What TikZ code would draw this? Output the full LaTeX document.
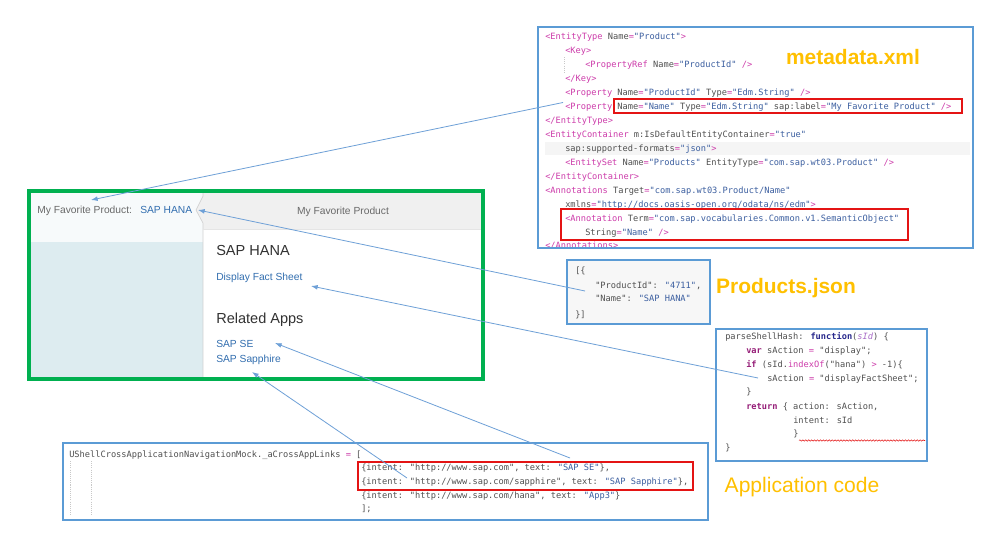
\documentclass[tikz,border=0pt]{standalone}
\usepackage{fontspec}
\setmainfont{Liberation Sans}
\newfontfamily\codefont{DejaVu Sans Mono}
\usetikzlibrary{arrows.meta,decorations.pathmorphing}
\definecolor{boxblue}{RGB}{91,155,213}
\definecolor{arrblue}{RGB}{110,160,215}
\definecolor{grn}{RGB}{0,176,80}
\definecolor{redb}{RGB}{228,20,20}
\definecolor{orng}{RGB}{255,192,0}
\definecolor{tagc}{RGB}{205,60,170}
\definecolor{attc}{RGB}{80,80,80}
\definecolor{valc}{RGB}{60,95,160}
\definecolor{kwc}{RGB}{150,30,120}
\definecolor{fnc}{RGB}{40,40,140}
\definecolor{paramc}{RGB}{170,110,200}
\definecolor{linkc}{RGB}{50,110,175}
\definecolor{txtg}{RGB}{105,105,105}
\definecolor{darkt}{RGB}{50,50,50}
\definecolor{hdrg}{RGB}{240,240,240}
\definecolor{panelb}{RGB}{221,236,240}
\definecolor{paneltop}{RGB}{247,250,251}
\definecolor{guideg}{RGB}{200,200,200}
\newcommand\ctag[1]{\textcolor{tagc}{#1}}
\newcommand\cva[1]{\textcolor{valc}{#1}}
\newcommand\codeq{\textcolor{tagc}{=}}
\newcommand\ckw[1]{\textcolor{kwc}{\bfseries #1}}
\begin{document}
\begin{tikzpicture}[x=0.75pt,y=-0.75pt,
  code/.style={anchor=base west, inner sep=0pt, font=\codefont\fontsize{6.5}{7}\selectfont, text=attc},
  bluebox/.style={draw=boxblue, line width=2.2pt},
  redbox/.style={draw=redb, line width=1.5pt},
  conn/.style={draw=arrblue, line width=0.6pt, -{Latex[length=5pt,width=3.6pt]}},
  title/.style={inner sep=0pt, text=orng, font=\fontsize{15.7}{18}\selectfont\bfseries},
  ui/.style={anchor=base west, inner sep=0pt, font=\fontsize{7.7}{9}\selectfont},
  uihead/.style={anchor=base west, inner sep=0pt, font=\fontsize{10.9}{13}\selectfont, text=darkt},
  guide/.style={draw=guideg, line width=0.4pt, dash pattern=on 0.8pt off 0.8pt}]
\useasboundingbox (0,0) rectangle (988,546);
\fill[white] (0,0) rectangle (988,546);

% ---------- metadata.xml box ----------
\fill[white] (538,27) rectangle (973,248);
\fill[black!4] (545,142) rectangle (970,155);
\draw[guide] (564,57) -- (564,72);
\node[code] (m1) at (545,39.7) {\ctag{<EntityType} Name\codeq\cva{"Product"}\ctag{>}};
\node[code] (m2) at (565,53.65) {\ctag{<Key>}};
\node[code] (m3) at (585,67.6) {\ctag{<PropertyRef} Name\codeq\cva{"ProductId"} \ctag{/>}};
\node[code] (m4) at (565,81.55) {\ctag{</Key>}};
\node[code] (m5) at (565,95.5) {\ctag{<Property} Name\codeq\cva{"ProductId"} Type\codeq\cva{"Edm.String"} \ctag{/>}};
\node[code] (m6) at (565,109.45) {\ctag{<Property} Name\codeq\cva{"Name"} Type\codeq\cva{"Edm.String"} sap:label\codeq\cva{"My Favorite Product"} \ctag{/>}};
\node[code] (m7) at (545,123.4) {\ctag{</EntityType>}};
\node[code] (m8) at (545,137.35) {\ctag{<EntityContainer} m:IsDefaultEntityContainer\codeq\cva{"true"}};
\node[code] (m9) at (565,151.3) {sap:supported-formats\codeq\cva{"json"}\ctag{>}};
\node[code] (m10) at (565,165.25) {\ctag{<EntitySet} Name\codeq\cva{"Products"} EntityType\codeq\cva{"com.sap.wt03.Product"} \ctag{/>}};
\node[code] (m11) at (545,179.2) {\ctag{</EntityContainer>}};
\node[code] (m12) at (545,193.15) {\ctag{<Annotations} Target\codeq\cva{"com.sap.wt03.Product/Name"}};
\node[code] (m13) at (565,207.1) {xmlns\codeq\cva{"http://docs.oasis-open.org/odata/ns/edm"}\ctag{>}};
\node[code] (m14) at (565,221.05) {\ctag{<Annotation} Term\codeq\cva{"com.sap.vocabularies.Common.v1.SemanticObject"}};
\node[code] (m15) at (585,235) {String\codeq\cva{"Name"} \ctag{/>}};
\node[code] (m16) at (545,248.5) {\ctag{</Annotations>}};
\draw[bluebox] (538,27) rectangle (973,248);
\draw[redbox] (614,99) rectangle (962,112.5);
\draw[redbox] (561,209) rectangle (908,240);
\node[title] (tmeta) at (853,57) {metadata.xml};

% ---------- Products.json ----------
\fill[black!3] (567,260) rectangle (710,324);
\node[code] (j1) at (575,273) {[\{};
\node[code] (j2) at (595,288.7) {"ProductId": \cva{"4711"},};
\node[code] (j3) at (595,301.3) {"Name": \cva{"SAP HANA"}};
\node[code] (j4) at (575,317) {\}]};
\draw[bluebox] (567,260) rectangle (710,324);
\node[title] (tprod) at (786,288) {Products.json};

% ---------- Application code ----------
\fill[white] (716,329) rectangle (927,461);
\node[code] (s1) at (725,339.7) {parseShellHash: \textcolor{fnc}{\bfseries function}(\textcolor{paramc}{\itshape sId}) \{};
\node[code] (s2) at (746,353.3) {\ckw{var} sAction \codeq{} "display";};
\node[code] (s3) at (746,367.3) {\ckw{if} (sId.\textcolor{tagc}{indexOf}("hana") \textcolor{tagc}{>} -1)\{};
\node[code] (s4) at (767,381.3) {sAction \codeq{} "displayFactSheet";};
\node[code] (s5) at (746,394.7) {\}};
\node[code] (s6) at (746,409) {\ckw{return} \{ action: sAction,};
\node[code] (s7) at (793,423) {intent: sId};
\node[code] (s8) at (793,436.3) {\}};
\node[code] (s9) at (725,450.7) {\}};
\draw[redb, line width=0.4pt, decorate, decoration={snake, amplitude=0.5pt, segment length=2.2pt}] (799,440.5) -- (925,440.5);
\draw[bluebox] (716,329) rectangle (927,461);
\node[inner sep=0pt, text=orng, font=\fontsize{15.8}{18}\selectfont] (tapp) at (802,487) {Application code};

% ---------- cross app links ----------
\fill[white] (63,443) rectangle (708,520);
\draw[guide] (70,461) -- (70,516);
\draw[guide] (91,461) -- (91,516);
\node[code] (b1) at (69,457) {UShellCrossApplicationNavigationMock.\_aCrossAppLinks \codeq{} [};
\node[code] (b2) at (361,470.5) {\{intent: "http://www.sap.com", text: \cva{"SAP SE"}\},};
\node[code] (b3) at (361,484.3) {\{intent: "http://www.sap.com/sapphire", text: \cva{"SAP Sapphire"}\},};
\node[code] (b4) at (361,498) {\{intent: "http://www.sap.com/hana", text: \cva{"App3"}\}};
\node[code] (b5) at (361,511.5) {];};
\draw[bluebox] (63,443) rectangle (708,520);
\draw[redbox] (358,462) rectangle (693,490);

% ---------- UI screenshot (green) ----------
\fill[paneltop] (29,191) rectangle (203,242);
\fill[panelb] (29,242) rectangle (203,379);
\fill[white] (203,229) rectangle (483,379);
\fill[hdrg] (203,191) rectangle (483,229);
\fill[hdrg] (203,196) -- (196,210) -- (203,223) -- cycle;
\draw[black!18, line width=0.5pt] (203,191) -- (203,196) -- (196,210) -- (203,223) -- (203,379);
\draw[black!10, line width=0.5pt] (203,229) -- (483,229);
\node[ui, text=txtg] (lab1) at (37,213.5) {My Favorite Product:};
\node[ui, text=linkc] (lab2) at (140,213.5) {SAP HANA};
\node[inner sep=0pt, text=txtg, font=\fontsize{7.7}{9}\selectfont] (hdr) at (343,212) {My Favorite Product};
\node[uihead] (h1) at (216,255.5) {SAP HANA};
\node[ui, text=linkc] (dfs) at (216,280.8) {Display Fact Sheet};
\node[uihead] (h2) at (216,323.6) {Related Apps};
\node[ui, text=linkc] (ra1) at (216,347.5) {SAP SE};
\node[ui, text=linkc] (ra2) at (216,362.5) {SAP Sapphire};
\draw[draw=grn, line width=2.3pt] (29,191) rectangle (483,379);

% ---------- connectors ----------
\coordinate (a1s) at (563,102.5);
\coordinate (a1e) at (91,200);
\coordinate (a2s) at (585,291);
\coordinate (a2e) at (198,210);
\coordinate (a3s) at (758,378);
\coordinate (a3e) at (311,286);
\coordinate (a4s) at (570,458);
\coordinate (a4e) at (275,343);
\coordinate (a5s) at (407,478);
\coordinate (a5e) at (252,372);
\draw[conn] (a1s) -- (a1e);
\draw[conn] (a2s) -- (a2e);
\draw[conn] (a3s) -- (a3e);
\draw[conn] (a4s) -- (a4e);
\draw[conn] (a5s) -- (a5e);
\end{tikzpicture}
\end{document}
